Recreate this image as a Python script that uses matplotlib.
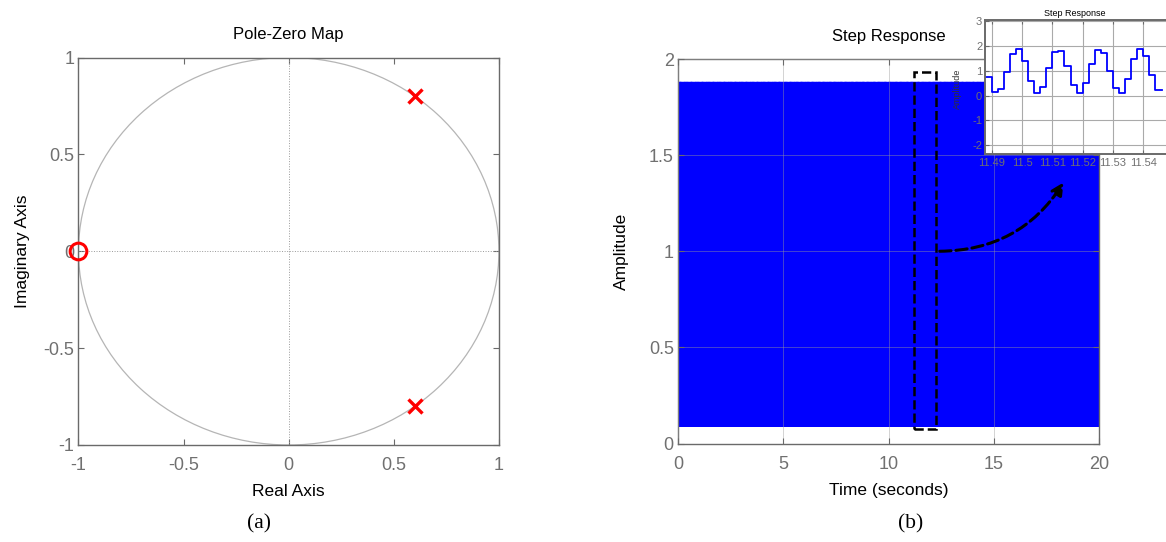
import matplotlib.pyplot as plt
import numpy as np
from matplotlib.patches import Circle, Rectangle

plt.rcParams['font.family'] = ['Liberation Sans', 'DejaVu Sans']
plt.rcParams['axes.unicode_minus'] = False

# pole-zero map
pole_re = [0.6, 0.6]
pole_im = [0.8, -0.8]
zero_re = [-1.0]
zero_im = [0.0]
pz_ticks = [-1, -0.5, 0, 0.5, 1]
pz_ticklabels = ['-1', '-0.5', '0', '0.5', '1']

# step response samples (sample time 0.002 s)
ts = 0.002
t_end = 20.0
zoom_t0 = 11.488
zoom_levels = [0.74, 0.16, 0.25, 0.94, 1.66, 1.88, 1.38, 0.59, 0.09, 0.34,
               1.13, 1.77, 1.81, 1.18, 0.42, 0.09, 0.50, 1.27, 1.84, 1.73,
               1.01, 0.31, 0.09, 0.66, 1.46, 1.88, 1.61, 0.85, 0.21, 0.21]
step_ticks = [0, 5, 10, 15, 20]
amp_ticks = [0, 0.5, 1, 1.5, 2]
amp_ticklabels = ['0', '0.5', '1', '1.5', '2']
zoom_xticks = [11.49, 11.50, 11.51, 11.52, 11.53, 11.54]
zoom_xticklabels = ['11.49', '11.5', '11.51', '11.52', '11.53', '11.54']
zoom_yticks = [-2, -1, 0, 1, 2, 3]

# the long run repeats the sampled pattern over the whole 20 s
n_samples = int(round(t_end / ts)) + 1
t_main = np.arange(n_samples) * ts
y_main = np.resize(np.array(zoom_levels[:-1]), n_samples)
t_zoom = zoom_t0 + np.arange(len(zoom_levels)) * ts

tick_col = '#707070'
spine_col = '#6a6a6a'


def matlab_style(ax, size=13, pad=6):
    ax.tick_params(direction='in', top=True, right=True, length=4, pad=pad,
                   colors=spine_col, labelcolor=tick_col, labelsize=size)
    for s in ax.spines.values():
        s.set_color(spine_col)
        s.set_linewidth(1.0)


fig = plt.figure(figsize=(11.66, 5.42), dpi=100)

# (a) pole-zero map
ax1 = fig.add_axes([0.0673, 0.1790, 0.3606, 0.7149])
ax1.add_patch(Circle((0, 0), 1, fill=False, color='#b5b5b5', lw=0.9))
ax1.axhline(0, color='#999999', lw=0.7, ls=':')
ax1.axvline(0, color='#999999', lw=0.7, ls=':')
ax1.plot(pole_re, pole_im, 'x', color='red', ms=10, mew=2.4, zorder=5)
ax1.plot(zero_re, zero_im, 'o', mfc='none', mec='red', ms=12, mew=2.2,
         zorder=5, clip_on=False)
ax1.set_xlim(-1, 1)
ax1.set_ylim(-1, 1)
ax1.set_xticks(pz_ticks, pz_ticklabels)
ax1.set_yticks(pz_ticks, pz_ticklabels)
matlab_style(ax1)
ax1.tick_params(axis='y', pad=3)
ax1.tick_params(axis='x', pad=9)
ax1.set_title('Pole-Zero Map', fontsize=12, pad=13)
ax1.set_xlabel('Real Axis', fontsize=12.5, labelpad=7)
ax1.set_ylabel('Imaginary Axis', fontsize=12.5, labelpad=10)

# (b) step response
ax2 = fig.add_axes([0.5815, 0.1817, 0.3611, 0.7094])
ax2.plot(t_main, y_main, drawstyle='steps-post', color='blue', lw=0.6)
ax2.set_xlim(0, 20)
ax2.set_ylim(0, 2)
ax2.set_xticks(step_ticks)
ax2.set_yticks(amp_ticks, amp_ticklabels)
ax2.grid(True, color='#9a9a9a', lw=0.6, alpha=0.5, zorder=3)
ax2.set_axisbelow(False)
matlab_style(ax2)
ax2.tick_params(axis='y', pad=3)
ax2.tick_params(axis='x', pad=9)
ax2.set_title('Step Response', fontsize=12, pad=13)
ax2.set_xlabel('Time (seconds)', fontsize=12.5, labelpad=7)
ax2.set_ylabel('Amplitude', fontsize=12.5, labelpad=14)

# zoom marker and arrow
ax2.add_patch(Rectangle((11.21, 0.075), 1.05, 1.86, fill=False, ec='black',
                        ls='--', lw=1.8, zorder=6))
ax2.annotate('', xy=(18.38, 1.37), xytext=(12.3, 1.0),
             arrowprops=dict(arrowstyle='-|>', ls='--', lw=2.2, color='black',
                             mutation_scale=18,
                             connectionstyle='arc3,rad=0.28'),
             zorder=7)

# inset zoom of the step response
ax3 = fig.add_axes([985 / 1166, 1 - 154 / 542, 195 / 1166, 134 / 542])
ax3.plot(t_zoom, zoom_levels, drawstyle='steps-post', color='blue', lw=1.3)
ax3.set_xlim(11.4878, 11.5521)
ax3.set_ylim(-2.35, 3.05)
ax3.set_xticks(zoom_xticks, zoom_xticklabels)
ax3.set_yticks(zoom_yticks)
ax3.grid(True, color='#aaaaaa', lw=0.8)
matlab_style(ax3, size=8, pad=2)
for s in ax3.spines.values():
    s.set_linewidth(1.4)
ax3.tick_params(length=3)
ax3.tick_params(axis='x', pad=3)
ax3.set_title('Step Response', fontsize=6.5, pad=3, x=0.46)
ax3.set_ylabel('Amplitude', fontsize=6.5, color='#333333')
ax3.yaxis.set_label_coords(-0.12, 0.49)

fig.text(259 / 1166, 1 - 524 / 542, '(a)', ha='center', va='center',
         family='Liberation Serif', fontsize=15.5)
fig.text(911 / 1166, 1 - 524 / 542, '(b)', ha='center', va='center',
         family='Liberation Serif', fontsize=15.5)

fig.savefig('out.png', dpi=100)
